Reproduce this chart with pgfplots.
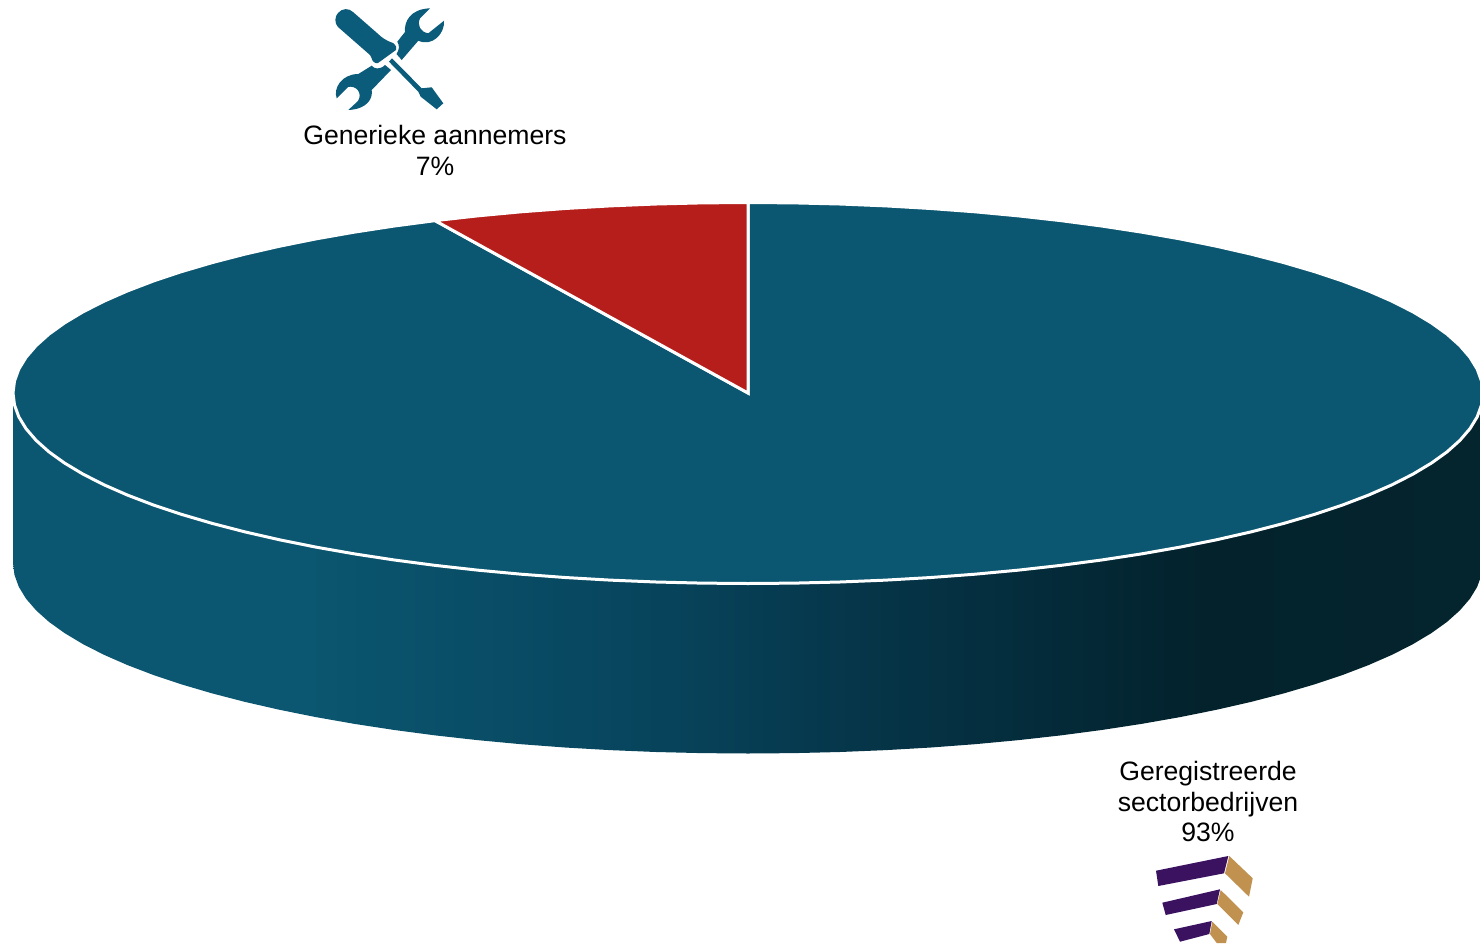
\documentclass[border=0pt]{standalone}
\usepackage{pgfplots}
\pgfplotsset{compat=1.18}
\usepackage{fontspec}
\setmainfont{Liberation Sans}

\definecolor{pieblue}{HTML}{0B5670}
\definecolor{piered}{HTML}{B51E1A}
\definecolor{iconblue}{HTML}{0B5C7A}
\definecolor{logopurple}{HTML}{3A1260}
\definecolor{logotan}{HTML}{C0914F}
\definecolor{wallA}{RGB}{11,86,112}
\definecolor{wallB}{RGB}{7,68,92}
\definecolor{wallC}{RGB}{6,54,74}
\definecolor{wallD}{RGB}{4,43,58}
\definecolor{wallE}{RGB}{3,34,44}
\definecolor{wallF}{RGB}{4,36,46}

% Cylinder wall: lit on the left, falling into shadow on the right.
% The span from 25bp to 75bp is stretched over the width of the wall.
\pgfdeclarehorizontalshading{wallshade}{100bp}{
  color(0bp)=(wallA);
  color(35bp)=(wallA);
  color(47bp)=(wallB);
  color(53.5bp)=(wallC);
  color(60bp)=(wallD);
  color(65.5bp)=(wallE);
  color(75bp)=(wallF);
  color(100bp)=(wallF)}

% Oblique projection of a pie: p is the position round the circle in percent,
% r the radial fraction, d the drop from the top face down the wall.
\pgfplotsset{
  table/pie projection/.style={
    x expr={748+735*\thisrow{r}*sin(3.6*\thisrow{p})},
    y expr={393-190.5*\thisrow{r}*cos(3.6*\thisrow{p})+\thisrow{d}},
    row sep=crcr}
}

\begin{document}
\begin{tikzpicture}
\begin{axis}[
  scale only axis, width=1480pt, height=943pt,
  xmin=0, xmax=1480, ymin=0, ymax=943, y dir=reverse,
  ticks=none, axis line style={draw=none},
  clip=true]

% Wall of the cylinder, along the front half of the rim and back along the base
\addplot[draw=none, shade, shading=wallshade] table[pie projection] {
p r d\\
25 1 0\\ 27 1 0\\ 29 1 0\\ 31 1 0\\ 33 1 0\\ 35 1 0\\ 37 1 0\\ 39 1 0\\ 41 1 0\\ 43 1 0\\
45 1 0\\ 47 1 0\\ 49 1 0\\ 50 1 0\\ 51 1 0\\ 53 1 0\\ 55 1 0\\ 57 1 0\\ 59 1 0\\ 61 1 0\\
63 1 0\\ 65 1 0\\ 67 1 0\\ 69 1 0\\ 71 1 0\\ 73 1 0\\ 75 1 0\\
75 1 170\\ 74 1 170\\ 73 1 170\\ 72 1 170\\ 71 1 170\\ 70 1 170\\ 69 1 170\\ 68 1 170\\ 67 1 170\\ 66 1 170\\
65 1 170\\ 64 1 170\\ 63 1 170\\ 62 1 170\\ 61 1 170\\ 60 1 170\\ 59 1 170\\ 58 1 170\\ 57 1 170\\ 56 1 170\\
55 1 170\\ 54 1 170\\ 53 1 170\\ 52 1 170\\ 51 1 170\\ 50 1 170\\ 49 1 170\\ 48 1 170\\ 47 1 170\\ 46 1 170\\
45 1 170\\ 44 1 170\\ 43 1 170\\ 42 1 170\\ 41 1 170\\ 40 1 170\\ 39 1 170\\ 38 1 170\\ 37 1 170\\ 36 1 170\\
35 1 170\\ 34 1 170\\ 33 1 170\\ 32 1 170\\ 31 1 170\\ 30 1 170\\ 29 1 170\\ 28 1 170\\ 27 1 170\\ 26 1 170\\
25 1 170\\
} -- cycle;

% Geregistreerde sectorbedrijven: 93 %
\addplot[draw=white, line width=3pt, line join=miter, fill=pieblue] table[pie projection] {
p r d\\
0 0 0\\ 0 1 0\\
1 1 0\\ 2 1 0\\ 3 1 0\\ 4 1 0\\ 5 1 0\\ 6 1 0\\ 7 1 0\\ 8 1 0\\ 9 1 0\\ 10 1 0\\
11 1 0\\ 12 1 0\\ 13 1 0\\ 14 1 0\\ 15 1 0\\ 16 1 0\\ 17 1 0\\ 18 1 0\\ 19 1 0\\ 20 1 0\\
21 1 0\\ 22 1 0\\ 23 1 0\\ 24 1 0\\ 25 1 0\\ 26 1 0\\ 27 1 0\\ 28 1 0\\ 29 1 0\\ 30 1 0\\
31 1 0\\ 32 1 0\\ 33 1 0\\ 34 1 0\\ 35 1 0\\ 36 1 0\\ 37 1 0\\ 38 1 0\\ 39 1 0\\ 40 1 0\\
41 1 0\\ 42 1 0\\ 43 1 0\\ 44 1 0\\ 45 1 0\\ 46 1 0\\ 47 1 0\\ 48 1 0\\ 49 1 0\\ 50 1 0\\
51 1 0\\ 52 1 0\\ 53 1 0\\ 54 1 0\\ 55 1 0\\ 56 1 0\\ 57 1 0\\ 58 1 0\\ 59 1 0\\ 60 1 0\\
61 1 0\\ 62 1 0\\ 63 1 0\\ 64 1 0\\ 65 1 0\\ 66 1 0\\ 67 1 0\\ 68 1 0\\ 69 1 0\\ 70 1 0\\
71 1 0\\ 72 1 0\\ 73 1 0\\ 74 1 0\\ 75 1 0\\ 76 1 0\\ 77 1 0\\ 78 1 0\\ 79 1 0\\ 80 1 0\\
81 1 0\\ 82 1 0\\ 83 1 0\\ 84 1 0\\ 85 1 0\\ 86 1 0\\ 87 1 0\\ 88 1 0\\ 89 1 0\\ 90 1 0\\
91 1 0\\ 92 1 0\\ 93 1 0\\ 93 0 0\\
} -- cycle;

% Generieke aannemers: 7 %
\addplot[draw=white, line width=3pt, line join=miter, fill=piered] table[pie projection] {
p r d\\
93 0 0\\ 93 1 0\\ 94 1 0\\ 95 1 0\\ 96 1 0\\ 97 1 0\\ 98 1 0\\ 99 1 0\\ 100 1 0\\ 100 0 0\\
} -- cycle;

% Labels
\node[align=center, font=\fontsize{26.6pt}{30.6pt}\selectfont, anchor=north, inner sep=0pt]
  at (435,125) {Generieke aannemers\\7\%};
\node[align=center, font=\fontsize{26.6pt}{30.6pt}\selectfont, anchor=north, inner sep=0pt]
  at (1208,761) {Geregistreerde\\sectorbedrijven\\93\%};

% Tools icon: screwdriver handle
\fill[iconblue] (353,12) -- (377,33) .. controls (382,38) and (387,41) .. (393,43)
  .. controls (396,45) and (397,48) .. (396,50) -- (378,63)
  .. controls (375,64) and (372,61) .. (371.5,58)
  -- (370,55) -- (338,27)
  .. controls (334,23) and (335,16) .. (338,13)
  .. controls (342,8) and (349,8) .. (353,12) -- cycle;
% Tools icon: screwdriver shaft and blade
\fill[iconblue] (392,58.3) -- (421.7,88.3) -- (431.7,87.3) -- (443.3,103.3)
  -- (436.7,109.3) -- (420.7,96.7) -- (418.3,91.7) -- (389,61.7) -- cycle;
% Tools icon: upper wrench
\fill[iconblue] (397.3,41.7) -- (405,32)
  .. controls (404,22) and (410,9) .. (430,8.3)
  -- (420,18.3) .. controls (417,25) and (420,32) .. (428.3,33.3)
  -- (444,20.7) .. controls (445,34) and (432,47) .. (418.3,40.7)
  -- (401.7,60) -- (396.5,54) .. controls (399,50) and (400,46) .. (397.3,41.7) -- cycle;
% Tools icon: lower wrench
\fill[iconblue] (371.7,65.7) .. controls (374,69) and (380,70) .. (385,65)
  -- (391,70) -- (371.7,90)
  .. controls (373,98) and (368,109) .. (348.3,110)
  -- (358,101) .. controls (363,93) and (356,85) .. (348,87)
  -- (336.7,98.3) .. controls (333,88) and (342,74) .. (358.3,74) -- cycle;

% Company logo: three stepped chevrons
\fill[logopurple] (1156,870.7) -- (1228.3,856) -- (1224,873.3) -- (1158.3,886) -- cycle;
\fill[logotan] (1229.3,856) -- (1252.7,878.3) -- (1249,896.7) -- (1225,873.3) -- cycle;
\fill[logopurple] (1162.3,902.7) -- (1220,889.3) -- (1216.7,904) -- (1165.7,915) -- cycle;
\fill[logotan] (1220.7,890) -- (1243.3,912.3) -- (1238.3,925) -- (1217.3,904) -- cycle;
\fill[logopurple] (1174,929.3) -- (1211.7,921) -- (1209.3,934) -- (1180,941.7) -- cycle;
\fill[logotan] (1212.3,921.7) -- (1227.3,936.7) -- (1226,943) -- (1216.7,943) -- (1210,934) -- cycle;
\end{axis}
\end{tikzpicture}
\end{document}
